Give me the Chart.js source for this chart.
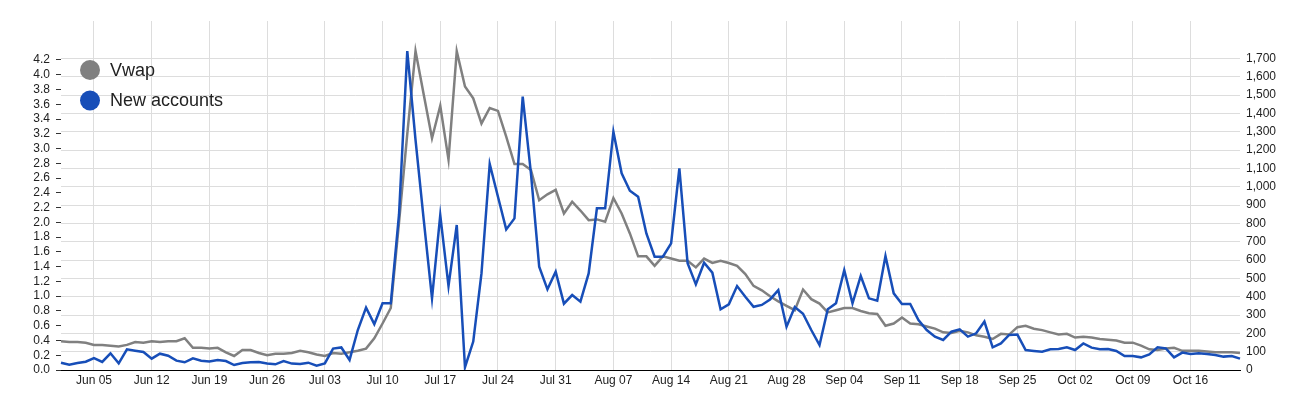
<!DOCTYPE html>
<html><head><meta charset="utf-8">
<script src="https://cdn.jsdelivr.net/npm/chart.js@4.4.0/dist/chart.umd.min.js"></script>
<style>html,body{margin:0;padding:0;background:#fff;}#wrap{width:1300px;height:400px;}</style>
</head><body><div id="wrap"><canvas id="c" width="1300" height="400"></canvas></div>
<script>
// Daily categories: Jun 01 .. Oct 22
const monthSpans = [['Jun', 30], ['Jul', 31], ['Aug', 31], ['Sep', 30], ['Oct', 22]];
const dayLabels = [];
monthSpans.forEach(([m, n]) => { for (let d = 1; d <= n; d++) dayLabels.push(m + ' ' + String(d).padStart(2, '0')); });

const tickLabels = ['Jun 05','Jun 12','Jun 19','Jun 26','Jul 03','Jul 10','Jul 17','Jul 24','Jul 31','Aug 07',
  'Aug 14','Aug 21','Aug 28','Sep 04','Sep 11','Sep 18','Sep 25','Oct 02','Oct 09','Oct 16'];

const vwapTicks = [0.0,0.2,0.4,0.6,0.8,1.0,1.2,1.4,1.6,1.8,2.0,2.2,2.4,2.6,2.8,3.0,3.2,3.4,3.6,3.8,4.0,4.2];
const accountTicks = [0,100,200,300,400,500,600,700,800,900,1000,1100,1200,1300,1400,1500,1600,1700];

const vwap = [0.39,0.38,0.38,0.37,0.34,0.34,0.33,0.32,0.34,0.38,
  0.37,0.39,0.38,0.39,0.39,0.43,0.30,0.30,0.29,0.30,
  0.24,0.19,0.27,0.27,0.23,0.20,0.22,0.22,0.23,0.26,
  0.24,0.21,0.19,0.23,0.22,0.24,0.26,0.29,0.43,0.63,
  0.84,2.00,3.20,4.32,3.73,3.14,3.58,2.85,4.32,3.84,
  3.68,3.34,3.55,3.51,3.16,2.79,2.79,2.71,2.30,2.38,
  2.44,2.12,2.28,2.16,2.03,2.04,2.01,2.33,2.12,1.85,
  1.54,1.54,1.41,1.54,1.51,1.48,1.48,1.39,1.51,1.45,
  1.48,1.45,1.41,1.30,1.14,1.08,1.00,0.93,0.87,0.81,
  1.09,0.96,0.90,0.78,0.81,0.84,0.84,0.80,0.77,0.76,
  0.60,0.63,0.71,0.63,0.62,0.59,0.56,0.51,0.50,0.53,
  0.51,0.47,0.45,0.42,0.49,0.48,0.58,0.60,0.56,0.54,
  0.51,0.48,0.49,0.44,0.45,0.44,0.42,0.41,0.40,0.37,
  0.37,0.33,0.28,0.27,0.29,0.30,0.26,0.26,0.26,0.25,
  0.24,0.24,0.24,0.23];

const newAccounts = [40,29,38,45,65,44,91,36,113,105,
  98,62,89,78,51,42,64,51,47,55,
  49,27,38,42,44,35,31,49,35,33,
  40,24,36,117,123,55,218,340,250,364,
  364,850,1740,1255,818,391,845,458,791,15,
  155,527,1124,945,767,827,1491,1073,564,440,
  536,362,409,373,527,882,882,1300,1073,978,
  945,745,618,618,691,1100,582,467,585,531,
  331,358,458,400,345,355,385,436,236,343,
  307,218,136,331,364,545,364,513,391,378,
  622,418,360,360,273,218,182,164,209,222,
  182,200,264,124,145,191,193,109,104,100,
  113,115,124,109,145,122,113,115,104,76,
  76,69,85,124,118,69,95,87,91,87,
  82,73,76,62];

const seriesNames = ['Vwap', 'New accounts'];
const seriesColors = ['#808080', '#174eb8'];

const FONT = "'Liberation Sans', Arial, sans-serif";

const legendPlugin = {
  id: 'insideLegend',
  afterDraw(chart) {
    const ctx = chart.ctx;
    ctx.save();
    chart.data.datasets.forEach((ds, i) => {
      const cy = 70 + i * 30.5;
      ctx.beginPath();
      ctx.arc(90, cy, 10, 0, Math.PI * 2);
      ctx.fillStyle = ds.borderColor;
      ctx.fill();
      ctx.fillStyle = '#222';
      ctx.font = '18px ' + FONT;
      ctx.textBaseline = 'middle';
      ctx.textAlign = 'left';
      ctx.fillText(ds.label, 110, cy + 1);
    });
    ctx.restore();
  }
};

new Chart(document.getElementById('c'), {
  type: 'line',
  data: {
    labels: dayLabels,
    datasets: [
      { label: seriesNames[0], data: vwap, yAxisID: 'yL', borderColor: seriesColors[0], backgroundColor: seriesColors[0],
        borderWidth: 2.5, pointRadius: 0, tension: 0, order: 1 },
      { label: seriesNames[1], data: newAccounts, yAxisID: 'yR', borderColor: seriesColors[1], backgroundColor: seriesColors[1],
        borderWidth: 2.5, pointRadius: 0, tension: 0, order: 0 }
    ]
  },
  options: {
    responsive: false,
    animation: false,
    layout: { padding: { top: 21, left: 0, right: 0, bottom: 0 } },
    plugins: { legend: { display: false }, tooltip: { enabled: false } },
    scales: {
      x: {
        type: 'category',
        offset: false,
        grid: { color: '#dddddd', lineWidth: 1, drawTicks: false },
        border: { display: true, color: '#000', width: 1 },
        ticks: { autoSkip: false, maxRotation: 0, minRotation: 0, padding: 3, color: '#222', font: { family: FONT, size: 12 } },
        afterBuildTicks: s => { s.ticks = s.ticks.filter(t => tickLabels.includes(dayLabels[t.value])); },
        afterFit: s => { s.height = 30; }
      },
      yL: {
        position: 'left',
        min: 0, max: 4.728,
        grid: { drawOnChartArea: false, drawTicks: true, tickLength: 5, tickColor: '#333', tickWidth: 1 },
        border: { display: false },
        ticks: { autoSkip: false, padding: 6, color: '#222', font: { family: FONT, size: 12 }, callback: v => Number(v).toFixed(1) },
        afterBuildTicks: s => { s.ticks = vwapTicks.map(v => ({ value: v })); },
        afterFit: s => { s.width = 61; }
      },
      yR: {
        position: 'right',
        min: 0, max: 1904,
        grid: { color: '#dddddd', lineWidth: 1, drawTicks: false },
        border: { display: false },
        ticks: { autoSkip: false, padding: 6, color: '#222', font: { family: FONT, size: 12 }, callback: v => Number(v).toLocaleString('en-US') },
        afterBuildTicks: s => { s.ticks = accountTicks.map(v => ({ value: v })); },
        afterFit: s => { s.width = 60; }
      }
    }
  },
  plugins: [legendPlugin]
});
</script>
</body></html>
